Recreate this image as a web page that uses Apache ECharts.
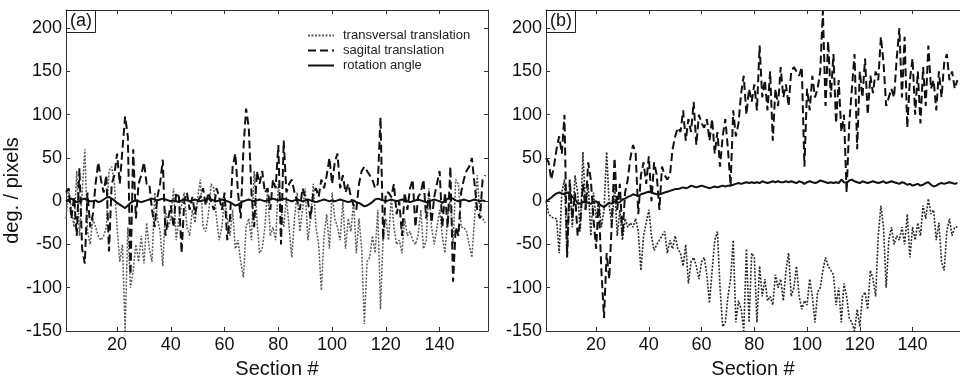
<!DOCTYPE html>
<html>
<head>
<meta charset="utf-8">
<script src="https://cdn.jsdelivr.net/npm/echarts@6/dist/echarts.min.js"></script>
<style>
  html, body { margin: 0; padding: 0; background: #fff; }
  #chart { width: 960px; height: 384px; }
</style>
</head>
<body>
<div id="chart"></div>
<script>
// tick labels
const xTicks = [20, 40, 60, 80, 100, 120, 140]
const yTicks = [-150, -100, -50, 0, 50, 100, 150, 200]
const seriesNames = ['transversal translation', 'sagital translation', 'rotation angle']

// panel (a)
const transA = [
  -20, 15, -10, -30, 35, -40, 10, 60, -35, -50,
  -20, -30, -40, -45, -40, -30, 35, 40, 20, -30,
  -70, -50, -150, -30, -100, -80, -50, -70, -40, -72,
  -25, -55, -70, 10, -20, -35, -75, -10, -30, -20,
  15, -45, -20, -5, 10, -30, -40, -10, -25, 5,
  25, -30, -35, -15, 20, 15, -20, -45, -30, 5,
  -20, -40, -10, -55, -45, -70, -88, -30, -20, -45,
  35, -20, -60, -55, -30, 15, -40, -30, -45, 20,
  -10, -30, 5, -30, -65, -20, 10, -35, -10, 15,
  -45, -20, 20, -30, -50, -103, -40, -15, -55, 10,
  -20, -30, -45, 0, -55, -20, -35, 0, -60, -20,
  -55, -142, -70, -65, -40, -60, -10, -125, -40, -20,
  -45, 5, -30, -50, -45, -60, -20, -40, -35, -45,
  -50, -40, -10, -55, -45, 15, -30, -50, -30, -10,
  -40, -60, -20, 5, -50, 25, 20, -30, -30, -35,
  -50, -65, -20, 30, -15, -20, -25
]
const sagA = [
  10, 15, -20, 5, -40, 38, -55, -72, 10, -30,
  -15, 20, 45, 25, 10, 30, -58, 20, 30, 55,
  20, 60, 98, 75, -85, 60, -20, 20, 30, 45,
  20, 20, -10, -30, 5, 20, 48, -40, -20, -5,
  -30, 10, 5, -60, 0, 10, -10, 5, -15, 0,
  5, 15, -5, 10, 0, -10, 15, 5, -10, 10,
  -45, -20, 40, 55, 10, -20, 60, 107, 85, 10,
  -30, 35, 20, 35, 10, 15, -10, 25, 15, 65,
  -50, 70, 10, 20, 25, 10, 0, -10, 15, 5,
  0, -20, 10, 15, 5, 25, 15, 30, 50, 20,
  45, 55, 15, 30, 10, 20, 5, -5, -10, 20,
  35, 40, 35, 30, 25, 15, 20, 97, -45, 10,
  10, 5, 20, -15, 0, -40, 10, -10, 15, 25,
  -30, 5, 10, 25, -20, 10, -25, 5, 20, 35,
  -30, 10, -30, 40, -93, -30, -40, 10, 25, 35,
  40, 50, 20, -10, -20, 25, 30
]
const rotA = [
  0, 2, 3, 1, -1, 0, 2, 3, 1, 0,
  0, 1, -1, 0, 2, 4, 5, 3, 1, -2,
  -4, -6, -8, -5, -2, 0, 1, 0, -1, 0,
  1, 2, 3, 2, 1, 2, 3, 2, 1, 0,
  1, 0, -1, 1, 2, 1, 0, 1, 2, 1,
  0, 1, 2, 3, 2, 1, 0, 1, 2, 1,
  0, -1, -3, -5, -4, -2, 0, 1, 2, 1,
  0, 1, 2, 1, 0, 1, 2, 3, 2, 1,
  2, 3, 2, 1, 0, 1, 2, 1, 0, 1,
  2, 1, 0, -1, 0, 1, 2, 1, 0, 1,
  0, 1, 2, 1, 0, -1, 0, 1, -1, -2,
  -4, -6, -5, -3, -1, 2, 3, 2, 1, 0,
  1, 2, 1, 0, 1, 2, 1, 0, -1, 0,
  1, 2, 1, 0, -1, 0, 1, 2, 1, 0,
  -2, 0, 3, 4, 3, 1, 0, 1, 2, 1,
  0, 1, 2, 1, 0, 1, 0
]

// panel (b)
const transB = [
  0, -15, -18, -20, -20, -60, 10, 25, -65, 20,
  -30, 30, 10, -35, 57, -10, 20, -40, 10, -20,
  0, -30, -10, 57, -5, -30, 20, -40, -10, -45,
  -20, -30, -25, -30, -20, -35, -80, -40, -25, -10,
  -40, -57, -50, -45, -40, -35, -60, -45, -55, -40,
  -55, -60, -75, -50, -95, -70, -65, -75, -90, -70,
  -65, -85, -118, -80, -45, -35, -100, -145, -140, -110,
  -90, -45, -140, -115, -125, -150, -55, -140, -60, -65,
  -140, -75, -110, -90, -115, -110, -120, -85, -100, -90,
  -115, -80, -60, -110, -100, -75, -110, -125, -115, -120,
  -90, -110, -140, -105, -100, -80, -65, -75, -80, -85,
  -120, -100, -140, -95, -110, -135, -140, -150, -125, -145,
  -110, -105, -125, -80, -90, -110, -40, -5, -30, -100,
  -45, -30, -50, -40, -45, -30, -50, -15, -65, -30,
  -45, -25, -40, -5, -20, 3, -15, -10, -45, -25,
  -70, -80, -35, -20, -40, -30, -30
]
const sagB = [
  50, 45, 25, 40, 60, 75, 55, 100, -65, 25,
  -20, 10, -40, -25, 20, -10, 45, 25, -20, -55,
  0, -80, -135, -60, -90, -20, 50, -10, 20, -40,
  10, 25, 50, 65, 55, -15, 30, 45, 20, 52,
  0, 45, 30, -10, 40, 30, 25, 30, 60, 75,
  85, 80, 105, 70, 95, 80, 115, 65, 100, 90,
  85, 95, 70, 95, 55, 80, 40, 75, 95, 60,
  18, 105, 75, 90, 125, 145, 100, 130, 115, 135,
  105, 180, 120, 140, 105, 150, 70, 130, 110, 155,
  120, 135, 110, 150, 155, 150, 145, 155, 40, 130,
  105, 145, 120, 130, 150, 220, 110, 185, 120, 170,
  90, 140, 80, 100, 10, 90, 130, 170, 60, 150,
  120, 165, 100, 145, 125, 150, 140, 190, 160, 110,
  120, 130, 120, 165, 200, 120, 190, 85, 140, 165,
  100, 150, 90, 155, 110, 180, 130, 140, 105, 150,
  120, 160, 170, 140, 150, 130, 140
]
const rotB = [
  0, 2, 4, 7, 9, 10, 9, 8, 10, 9,
  5, 2, -2, -3, -1, 0, -2, -3, -1, 0,
  -3, -5, -7, -4, -2, -3, 0, -2, -1, 2,
  3, 5, 6, 8, 7, 6, 8, 9, 10, 11,
  10, 9, 8, 8, 9, 10, 11, 12, 13, 14,
  14, 15, 16, 15, 16, 18, 17, 16, 17, 18,
  17, 16, 15, 16, 17, 16, 17, 18, 17, 18,
  18, 19, 20, 21, 20, 21, 22, 21, 22, 21,
  22, 21, 23, 22, 21, 22, 23, 22, 23, 22,
  22, 23, 22, 23, 22, 21, 23, 22, 20, 22,
  23, 22, 21, 22, 24, 23, 22, 21, 22, 21,
  22, 21, 25, 22, 21, 24, 25, 23, 22, 21,
  23, 22, 21, 22, 23, 22, 21, 22, 23, 21,
  22, 23, 22, 21, 20, 22, 21, 19, 20, 18,
  19, 20, 18, 19, 21, 22, 19, 17, 18, 20,
  21, 20, 21, 22, 21, 20, 21
]

const font = 'Liberation Sans, Arial, sans-serif'
const axisColor = '#333'

const pairs = (arr) => arr.map((v, i) => [i + 1, v])

const bottomX = (gridIndex) => ({
	type: 'value',
	gridIndex,
	min: 1,
	max: 158,
	name: 'Section #',
	nameLocation: 'middle',
	nameGap: 28,
	nameTextStyle: { fontSize: 20, color: '#111', fontFamily: font },
	axisLine: { onZero: false, lineStyle: { color: axisColor, width: 1 } },
	axisTick: { inside: true, length: 4, customValues: xTicks, lineStyle: { color: axisColor } },
	axisLabel: { customValues: xTicks, fontSize: 18, color: '#111', fontFamily: font, margin: 5 },
	splitLine: { show: false },
})
const topX = (gridIndex) => ({
	type: 'value',
	gridIndex,
	position: 'top',
	min: 1,
	max: 158,
	axisLine: { show: true, onZero: false, lineStyle: { color: axisColor, width: 1 } },
	axisTick: { inside: true, length: 4, customValues: xTicks, lineStyle: { color: axisColor } },
	axisLabel: { show: false },
	splitLine: { show: false },
})
const leftY = (gridIndex, withName) => ({
	type: 'value',
	gridIndex,
	min: -150,
	max: 221,
	name: withName ? 'deg. / pixels' : '',
	nameLocation: 'middle',
	nameGap: 38,
	nameTextStyle: { fontSize: 20, color: '#111', fontFamily: font, padding: [0, 0, 0, -40] },
	axisLine: { show: true, onZero: false, lineStyle: { color: axisColor, width: 1 } },
	axisTick: { show: true, inside: true, length: 4, customValues: yTicks, lineStyle: { color: axisColor } },
	axisLabel: { customValues: yTicks, fontSize: 18, color: '#111', fontFamily: font, margin: 4 },
	splitLine: { show: false },
})
const rightY = (gridIndex) => ({
	type: 'value',
	gridIndex,
	position: 'right',
	min: -150,
	max: 221,
	axisLine: { show: true, onZero: false, lineStyle: { color: axisColor, width: 1 } },
	axisTick: { show: true, inside: true, length: 4, customValues: yTicks, lineStyle: { color: axisColor } },
	axisLabel: { show: false },
	splitLine: { show: false },
})

const lineSeries = (name, data, xAxisIndex, yAxisIndex, style, z) => ({
	name,
	type: 'line',
	xAxisIndex,
	yAxisIndex,
	data: pairs(data),
	symbol: 'none',
	color: style.color,
	lineStyle: style,
	z,
	silent: true,
	animation: false,
})

const dotStyleA = { color: '#5a5a5a', width: 1.5, type: [2, 1.5] }
const dotStyleB = { color: '#2a2a2a', width: 1.6, type: [2, 1.5] }
const dashStyle = { color: '#111', width: 2, type: [8, 4] }
const solidStyle = { color: '#111', width: 2, type: 'solid' }

const option = {
	backgroundColor: '#fff',
	animation: false,
	title: [
		{
			text: '(a)', left: 66, top: 10, padding: [2, 4, 3, 4],
			borderColor: '#222', borderWidth: 1,
			textStyle: { fontSize: 18, fontWeight: 'normal', color: '#111', fontFamily: font },
		},
		{
			text: '(b)', left: 546, top: 10, padding: [2, 4, 3, 4],
			borderColor: '#222', borderWidth: 1,
			textStyle: { fontSize: 18, fontWeight: 'normal', color: '#111', fontFamily: font },
		},
	],
	legend: {
		left: 302,
		top: 24,
		orient: 'vertical',
		itemWidth: 26,
		itemHeight: 12,
		itemGap: 2,
		data: seriesNames,
		itemStyle: { opacity: 0 },
		textStyle: { fontSize: 13, color: '#222', fontFamily: font, padding: [0, 0, 0, 4] },
		selectedMode: false,
	},
	grid: [
		{ left: 66, top: 10, width: 422, height: 334 },
		{ left: 546, top: 10, width: 426, height: 334 },
	],
	xAxis: [bottomX(0), topX(0), bottomX(1), topX(1)],
	yAxis: [leftY(0, true), rightY(0), leftY(1, false)],
	series: [
		lineSeries(seriesNames[0], transA, 0, 0, dotStyleA, 2),
		lineSeries(seriesNames[1], sagA, 0, 0, dashStyle, 3),
		lineSeries(seriesNames[2], rotA, 0, 0, solidStyle, 4),
		lineSeries(seriesNames[0], transB, 2, 2, dotStyleB, 2),
		lineSeries(seriesNames[1], sagB, 2, 2, dashStyle, 3),
		lineSeries(seriesNames[2], rotB, 2, 2, solidStyle, 4),
	],
}

const chart = echarts.init(document.getElementById('chart'))
chart.setOption(option)
</script>
</body>
</html>
